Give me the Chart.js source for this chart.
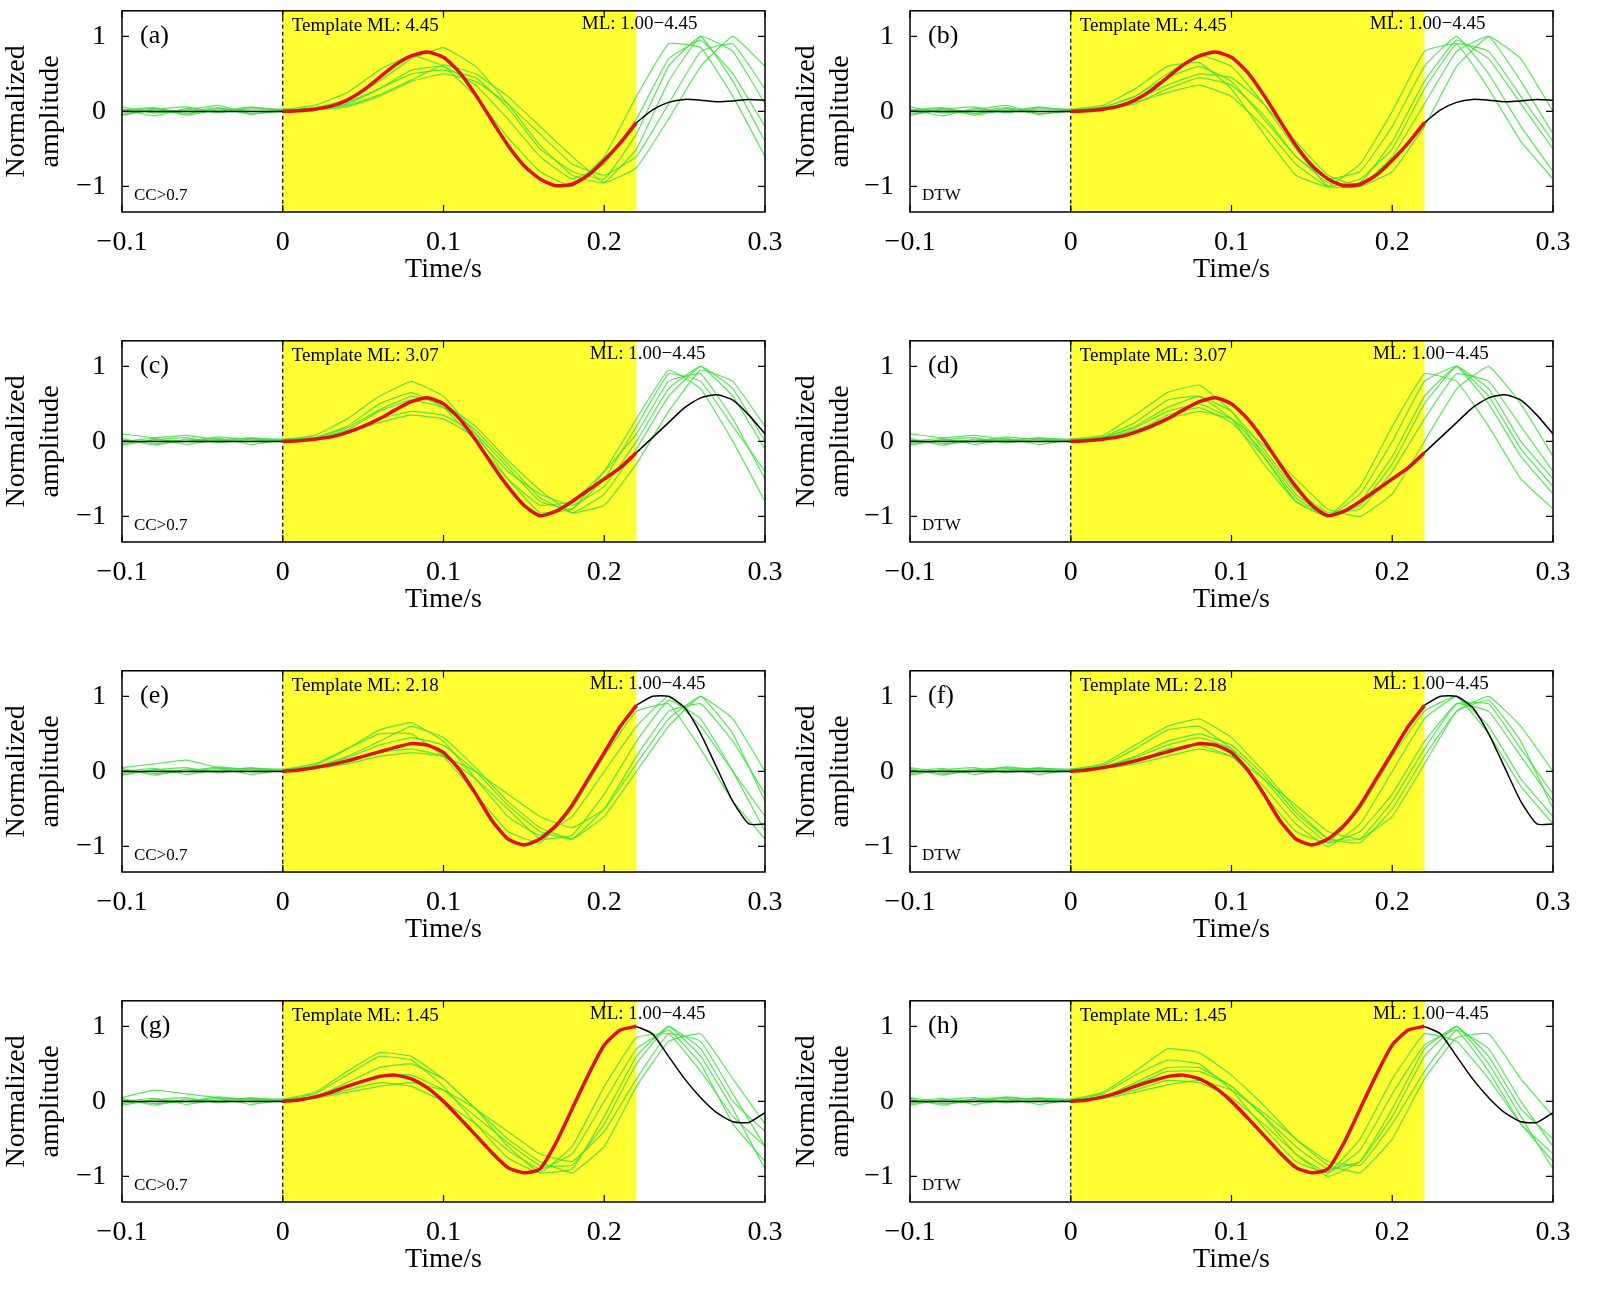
<!DOCTYPE html>
<html><head><meta charset="utf-8">
<script src="https://cdn.jsdelivr.net/npm/chart.js@4"></script>
<style>body{margin:0;background:#fff;width:1600px;height:1302px;overflow:hidden;position:relative}
.p{position:absolute;width:790px;height:304px}</style></head><body>
<div id="wrap"></div>
<script>
// template step 0.01 from 0 to 0.3 (index 22 = 0.22 end of red)
const T1=[0,0.01,0.03,0.07,0.15,0.28,0.45,0.62,0.74,0.79,0.72,0.52,0.22,-0.12,-0.45,-0.72,-0.9,-0.99,-0.97,-0.85,-0.65,-0.42,-0.15,0.02,0.12,0.16,0.15,0.13,0.14,0.16,0.15];
const T2=[0,0.01,0.03,0.06,0.12,0.2,0.3,0.42,0.53,0.58,0.5,0.3,0.02,-0.3,-0.6,-0.85,-0.99,-0.93,-0.8,-0.65,-0.5,-0.35,-0.15,0.05,0.25,0.45,0.58,0.62,0.55,0.35,0.1];
const T3=[0,0.02,0.05,0.09,0.14,0.2,0.26,0.32,0.37,0.35,0.25,0.02,-0.3,-0.65,-0.9,-0.98,-0.9,-0.72,-0.45,-0.1,0.25,0.6,0.88,1.0,1.0,0.85,0.5,0.05,-0.4,-0.7,-0.7];
const T4=[0,0.02,0.06,0.12,0.2,0.27,0.33,0.35,0.3,0.18,0,-0.22,-0.45,-0.68,-0.88,-0.95,-0.9,-0.55,-0.1,0.35,0.75,0.95,1.0,0.9,0.6,0.3,0.05,-0.15,-0.27,-0.28,-0.15];
// green traces step 0.02 from -0.1 to 0.3
const GA=[[0.02,0.05,-0.03,0.04,0.0,0.01,0.03,0.1,0.3,0.55,0.6,0.35,-0.1,-0.6,-0.9,-0.7,-0.1,0.7,0.95,0.5,-0.2],
[-0.04,0.03,0.06,-0.02,0.05,0.02,0.05,0.15,0.4,0.7,0.85,0.6,0.1,-0.45,-0.85,-0.95,-0.5,0.4,1.0,0.8,0.1],
[0.06,-0.02,0.02,0.08,-0.03,0.0,0.02,0.06,0.2,0.4,0.5,0.4,0.1,-0.3,-0.7,-0.85,-0.6,0.1,0.8,0.9,0.3],
[0.0,0.04,-0.05,0.02,0.03,0.03,0.08,0.25,0.55,0.75,0.6,0.2,-0.35,-0.8,-1.0,-0.6,0.2,0.9,0.85,0.2,-0.6],
[0.03,-0.06,0.04,0.0,0.06,0.01,0.04,0.12,0.3,0.5,0.55,0.45,0.05,-0.5,-0.8,-0.9,-0.3,0.6,1.0,0.4,-0.4],
[-0.05,0.02,0.0,0.05,-0.04,0.02,0.03,0.08,0.22,0.42,0.62,0.5,0.2,-0.2,-0.6,-0.95,-0.75,-0.1,0.6,1.0,0.6]];
const GB=[[0.02,0.05,-0.03,0.04,0.0,0.01,0.05,0.2,0.45,0.6,0.4,-0.1,-0.6,-0.95,-0.95,-0.4,0.4,0.95,0.7,0.1,-0.5],
[-0.04,0.03,0.06,-0.02,0.05,0.02,0.06,0.2,0.5,0.75,0.6,0.1,-0.5,-1.0,-1.0,-0.6,0.1,0.8,1.0,0.4,-0.3],
[0.06,-0.02,0.02,0.08,-0.03,0.0,0.03,0.1,0.3,0.45,0.35,-0.05,-0.6,-0.9,-0.8,-0.2,0.6,1.0,0.5,-0.2,-0.8],
[0.0,0.04,-0.05,0.02,0.03,0.03,0.08,0.3,0.6,0.65,0.3,-0.3,-0.85,-1.0,-0.7,0.0,0.8,0.9,0.3,-0.4,-0.9],
[0.03,-0.06,0.04,0.0,0.06,0.01,0.04,0.15,0.35,0.5,0.45,0.1,-0.4,-0.85,-1.0,-0.8,-0.2,0.6,1.0,0.7,0.0],
[-0.05,0.02,0.0,0.05,-0.04,0.02,0.04,0.12,0.25,0.35,0.2,-0.2,-0.7,-1.0,-0.9,-0.5,0.3,0.9,0.8,0.2,-0.4]];
const GC=[[0.1,0.05,0.08,0.02,0.0,0.02,0.05,0.2,0.5,0.65,0.45,0.0,-0.5,-0.85,-0.8,-0.4,0.1,0.8,0.9,0.3,-0.5],
[-0.03,0.02,0.05,-0.02,0.03,0.01,0.04,0.15,0.4,0.55,0.45,0.15,-0.3,-0.75,-0.95,-0.7,-0.1,0.6,1.0,0.7,0.0],
[0.02,-0.03,0.0,0.06,0.02,0.0,0.03,0.1,0.3,0.4,0.35,0.1,-0.35,-0.8,-0.9,-0.5,0.2,0.9,0.8,0.2,-0.4],
[0.0,0.04,-0.04,0.02,0.04,0.03,0.08,0.3,0.6,0.8,0.6,0.1,-0.5,-0.95,-0.9,-0.4,0.3,0.95,0.7,0.0,-0.8],
[0.04,-0.05,0.03,0.0,0.05,0.01,0.04,0.12,0.25,0.35,0.3,0.05,-0.4,-0.7,-0.85,-0.6,0.0,0.7,1.0,0.6,-0.1],
[-0.05,0.02,0.0,0.04,-0.04,0.02,0.05,0.18,0.42,0.6,0.5,0.2,-0.25,-0.65,-0.95,-0.85,-0.3,0.4,0.95,0.8,0.2]];
const GD=[[0.1,0.05,0.08,0.02,0.0,0.02,0.06,0.25,0.55,0.6,0.3,-0.3,-0.8,-1.0,-0.7,0.0,0.8,1.0,0.5,-0.2,-0.7],
[-0.03,0.02,0.05,-0.02,0.03,0.01,0.05,0.2,0.45,0.6,0.4,-0.1,-0.65,-0.95,-0.9,-0.4,0.3,0.9,0.8,0.2,-0.4],
[0.02,-0.03,0.0,0.06,0.02,0.0,0.04,0.12,0.35,0.45,0.25,-0.2,-0.75,-1.0,-0.8,-0.2,0.6,1.0,0.6,-0.1,-0.6],
[0.0,0.04,-0.04,0.02,0.04,0.03,0.08,0.35,0.65,0.75,0.4,-0.2,-0.8,-1.0,-0.6,0.2,0.9,0.8,0.2,-0.5,-0.9],
[0.04,-0.05,0.03,0.0,0.05,0.01,0.04,0.15,0.3,0.4,0.3,-0.05,-0.5,-0.9,-1.0,-0.7,0.0,0.7,1.0,0.5,-0.2],
[-0.05,0.02,0.0,0.04,-0.04,0.02,0.05,0.18,0.4,0.5,0.3,-0.15,-0.7,-1.0,-0.85,-0.3,0.5,1.0,0.7,0.0,-0.5]];
const GE=[[0.05,0.1,0.15,0.05,0.0,0.02,0.08,0.3,0.55,0.65,0.4,-0.1,-0.6,-0.85,-0.6,0.0,0.6,1.0,0.6,0.0,-0.6],
[-0.03,0.02,0.05,-0.02,0.03,0.01,0.05,0.18,0.35,0.45,0.35,0.0,-0.45,-0.8,-0.9,-0.5,0.2,0.8,0.9,0.4,-0.3],
[0.02,-0.03,0.0,0.06,0.02,0.0,0.04,0.12,0.25,0.3,0.2,-0.1,-0.5,-0.9,-0.85,-0.3,0.4,0.95,0.7,0.0,-0.8],
[0.0,0.04,-0.04,0.02,0.04,0.03,0.1,0.3,0.5,0.5,0.2,-0.3,-0.8,-0.95,-0.5,0.2,0.8,0.9,0.3,-0.4,-0.9],
[0.04,-0.05,0.03,0.0,0.05,0.01,0.04,0.1,0.2,0.25,0.2,0.0,-0.3,-0.6,-0.75,-0.5,0.1,0.7,1.0,0.7,0.0],
[-0.05,0.02,0.0,0.04,-0.04,0.02,0.06,0.2,0.4,0.6,0.45,0.05,-0.4,-0.75,-0.9,-0.6,0.0,0.6,1.0,0.5,-0.4]];
const GF=[[0.05,0.0,0.02,0.05,0.0,0.02,0.08,0.3,0.55,0.6,0.3,-0.3,-0.8,-0.95,-0.5,0.2,0.8,1.0,0.5,-0.2,-0.7],
[-0.03,0.02,0.05,-0.02,0.03,0.01,0.05,0.18,0.35,0.45,0.3,-0.1,-0.6,-0.95,-0.8,-0.3,0.4,0.9,0.8,0.2,-0.4],
[0.02,-0.03,0.0,0.06,0.02,0.0,0.04,0.12,0.3,0.35,0.2,-0.2,-0.7,-1.0,-0.7,0.0,0.7,1.0,0.6,-0.1,-0.6],
[0.0,0.04,-0.04,0.02,0.04,0.03,0.1,0.35,0.6,0.7,0.45,0.0,-0.5,-0.9,-0.9,-0.4,0.3,0.9,0.9,0.3,-0.3],
[0.04,-0.05,0.03,0.0,0.05,0.01,0.04,0.1,0.2,0.3,0.2,-0.1,-0.45,-0.8,-0.9,-0.6,0.1,0.8,1.0,0.6,0.0],
[-0.05,0.02,0.0,0.04,-0.04,0.02,0.06,0.2,0.4,0.5,0.35,-0.05,-0.55,-0.9,-0.95,-0.5,0.2,0.8,0.95,0.4,-0.5]];
const GG=[[0.05,0.15,0.1,0.05,0.02,0.02,0.1,0.35,0.6,0.55,0.2,-0.3,-0.75,-0.95,-0.6,0.2,0.85,0.9,0.4,-0.2,-0.6],
[-0.03,0.02,0.05,-0.02,0.03,0.01,0.06,0.2,0.35,0.35,0.15,-0.2,-0.55,-0.85,-0.85,-0.3,0.5,1.0,0.7,0.0,-0.4],
[0.02,-0.03,0.0,0.06,0.02,0.0,0.05,0.15,0.25,0.2,0.0,-0.3,-0.65,-0.9,-0.7,0.0,0.7,0.95,0.5,-0.3,-0.8],
[0.0,0.04,-0.04,0.02,0.04,0.03,0.12,0.4,0.65,0.6,0.3,-0.1,-0.5,-0.8,-0.95,-0.6,0.2,0.8,0.9,0.3,-0.3],
[0.04,-0.05,0.03,0.0,0.05,0.01,0.04,0.12,0.2,0.25,0.15,-0.1,-0.4,-0.7,-0.8,-0.4,0.3,0.9,0.8,0.1,-0.6],
[-0.05,0.02,0.0,0.04,-0.04,0.02,0.06,0.25,0.45,0.5,0.3,-0.1,-0.6,-0.95,-0.9,-0.2,0.6,1.0,0.6,-0.1,-0.9]];
const GH=[[0.05,0.0,0.03,0.05,0.02,0.02,0.1,0.35,0.55,0.5,0.15,-0.35,-0.8,-0.95,-0.5,0.3,0.9,0.8,0.3,-0.3,-0.7],
[-0.03,0.02,0.05,-0.02,0.03,0.01,0.06,0.22,0.4,0.4,0.2,-0.2,-0.6,-0.9,-0.8,-0.2,0.6,1.0,0.6,-0.1,-0.5],
[0.02,-0.03,0.0,0.06,0.02,0.0,0.05,0.15,0.28,0.25,0.05,-0.3,-0.7,-0.95,-0.65,0.1,0.75,0.95,0.4,-0.3,-0.8],
[0.0,0.04,-0.04,0.02,0.04,0.03,0.12,0.4,0.7,0.65,0.35,-0.05,-0.5,-0.85,-0.95,-0.5,0.3,0.85,0.9,0.3,-0.2],
[0.04,-0.05,0.03,0.0,0.05,0.01,0.04,0.12,0.22,0.28,0.15,-0.15,-0.5,-0.8,-0.85,-0.3,0.4,0.95,0.7,0.0,-0.6],
[-0.05,0.02,0.0,0.04,-0.04,0.02,0.06,0.25,0.45,0.45,0.2,-0.2,-0.7,-1.0,-0.8,-0.1,0.7,1.0,0.5,-0.2,-0.9]];
const xTicks=[-0.1,0,0.1,0.2,0.3];
const yTicks=[-1,0,1];
const panels=[
 {id:'(a)',t:T1,g:GA,ml:'4.45',m:'CC>0.7',mlx:0.186},{id:'(b)',t:T1,g:GB,ml:'4.45',m:'DTW',mlx:0.186},
 {id:'(c)',t:T2,g:GC,ml:'3.07',m:'CC>0.7',mlx:0.191},{id:'(d)',t:T2,g:GD,ml:'3.07',m:'DTW',mlx:0.188},
 {id:'(e)',t:T3,g:GE,ml:'2.18',m:'CC>0.7',mlx:0.191},{id:'(f)',t:T3,g:GF,ml:'2.18',m:'DTW',mlx:0.188},
 {id:'(g)',t:T4,g:GG,ml:'1.45',m:'CC>0.7',mlx:0.191},{id:'(h)',t:T4,g:GH,ml:'1.45',m:'DTW',mlx:0.188}];
const SERIF='"Liberation Serif","DejaVu Serif",serif';
const fmt=v=>{const s=(Math.round(v*10)/10).toString();return s.replace('-','\u2212');};
const deco={id:'deco',
 beforeDatasetsDraw(c){const {ctx,chartArea:a,scales:{x,y}}=c;
  ctx.save();ctx.fillStyle='#ffff33';const x0=x.getPixelForValue(0),x1=x.getPixelForValue(0.22);
  ctx.fillRect(x0,a.top,x1-x0,a.bottom-a.top);
  ctx.strokeStyle='#000';ctx.lineWidth=1.2;ctx.setLineDash([4,3]);ctx.beginPath();ctx.moveTo(x0,a.top);ctx.lineTo(x0,a.bottom);ctx.stroke();ctx.restore();},
 afterDraw(c){const {ctx,chartArea:a,scales:{x,y}}=c;const p=c.options.plugins.deco;
  ctx.save();ctx.strokeStyle='#000';ctx.lineWidth=1.5;ctx.strokeRect(a.left,a.top,a.right-a.left,a.bottom-a.top);
  ctx.lineWidth=1.2;ctx.beginPath();
  xTicks.forEach(v=>{const px=x.getPixelForValue(v);ctx.moveTo(px,a.bottom);ctx.lineTo(px,a.bottom-7);ctx.moveTo(px,a.top);ctx.lineTo(px,a.top+7);});
  yTicks.forEach(v=>{const py=y.getPixelForValue(v);ctx.moveTo(a.left,py);ctx.lineTo(a.left+7,py);ctx.moveTo(a.right,py);ctx.lineTo(a.right-7,py);});
  ctx.stroke();
  ctx.fillStyle='#000';ctx.textBaseline='top';ctx.textAlign='left';
  ctx.font='26px '+SERIF;ctx.fillText(p.id,a.left+18,a.top+12);
  ctx.font='19px '+SERIF;ctx.fillText('Template ML: '+p.ml,x.getPixelForValue(0)+9,a.top+6);
  ctx.fillText('ML: 1.00\u22124.45',x.getPixelForValue(p.mlx),a.top+4);
  ctx.font='17px '+SERIF;ctx.textBaseline='bottom';ctx.fillText(p.m,a.left+12,a.bottom-8);
  ctx.restore();}};
Chart.register(deco);
const wrap=document.getElementById('wrap');
panels.forEach((p,i)=>{
 const col=i%2,row=Math.floor(i/2);
 const d=document.createElement('div');d.className='p';d.style.left=(col?790:0)+'px';d.style.top=(row*330-14)+'px';
 const cv=document.createElement('canvas');d.appendChild(cv);wrap.appendChild(d);
 const ds=[];
 const red=[],blk=[];
 for(let k=0;k<=22;k++)red.push({x:k*0.01,y:p.t[k]});
 blk.push({x:-0.1,y:0},{x:0,y:0});
 const blk2=[];for(let k=22;k<p.t.length;k++)blk2.push({x:k*0.01,y:p.t[k]});
 ds.push({data:red,borderColor:'#e01010',borderWidth:3.5,tension:0.2});
 ds.push({data:blk2,borderColor:'#000',borderWidth:1.5,tension:0.2});
 ds.push({data:blk,borderColor:'#000',borderWidth:1.5});
 p.g.forEach(g=>ds.push({data:g.map((v,k)=>({x:-0.1+k*0.02,y:v})),borderColor:'rgba(60,225,60,0.85)',borderWidth:1.2,tension:0.1}));
 new Chart(cv,{type:'line',data:{datasets:ds},
  options:{responsive:true,maintainAspectRatio:false,animation:false,
   elements:{point:{radius:0}},
   layout:{padding:{top:0,right:col?27:25,left:0,bottom:0}},
   plugins:{legend:{display:false},tooltip:{enabled:false},
    deco:{id:p.id,ml:p.ml,m:p.m,mlx:p.mlx}},
   scales:{
    x:{type:'linear',min:-0.1,max:0.3,afterBuildTicks:s=>{s.ticks=xTicks.map(v=>({value:v}));},
     grid:{display:false},border:{display:false},
     ticks:{color:'#000',font:{family:SERIF,size:28},padding:6,maxRotation:0,callback:v=>fmt(v)},
     title:{display:true,text:'Time/s',color:'#000',font:{family:SERIF,size:28},padding:{top:0}},
     afterFit:s=>{s.height=78;}},
    y:{min:-1.34,max:1.34,afterBuildTicks:s=>{s.ticks=yTicks.map(v=>({value:v}));},
     grid:{display:false},border:{display:false},
     ticks:{color:'#000',font:{family:SERIF,size:28},padding:8,callback:v=>fmt(v)},
     title:{display:true,text:['Normalized','amplitude'],color:'#000',font:{family:SERIF,size:28,lineHeight:1.2},padding:0},
     afterFit:s=>{s.width=col?120:122;}}}}});
});
</script></body></html>
